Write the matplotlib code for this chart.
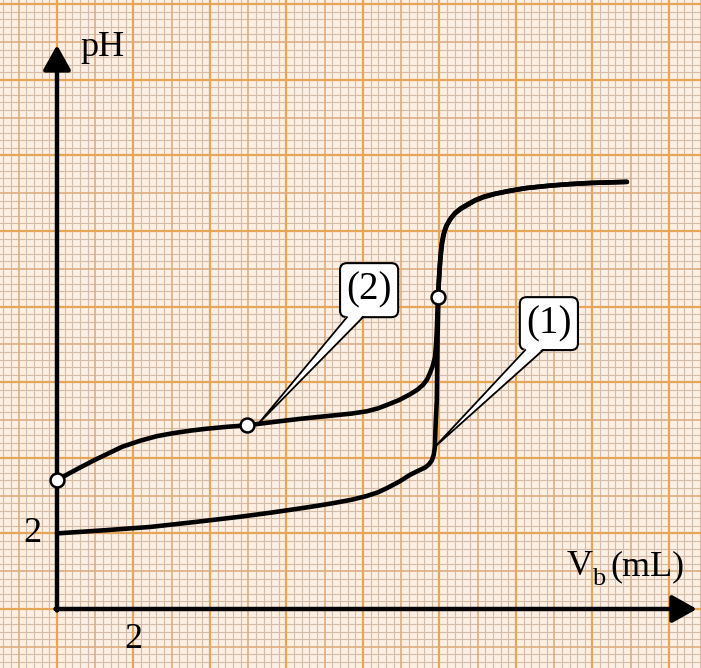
import numpy as np
import matplotlib.pyplot as plt
from matplotlib.patches import FancyBboxPatch, Polygon

plt.rcParams['font.family'] = ['Liberation Serif', 'DejaVu Serif']

# curve (1): strong acid titrated by the base
vb_1 = [0.0, 1.2, 2.43, 3.6, 4.78, 5.6, 6.35, 6.8, 7.22, 7.7, 8.10, 8.4, 8.63,
        8.95, 9.23, 9.45, 9.62, 9.72, 9.80, 9.85, 9.88, 9.90, 9.93, 9.95, 9.98,
        10.02, 10.07, 10.13, 10.2, 10.3, 10.42, 10.57, 10.74, 10.94, 11.16,
        11.47, 11.86, 12.3, 12.89, 13.4, 13.93, 14.90]
ph_1 = [2.0, 2.08, 2.17, 2.30, 2.44, 2.55, 2.66, 2.73, 2.80, 2.89, 2.99, 3.09,
        3.20, 3.37, 3.55, 3.66, 3.74, 3.82, 3.93, 4.08, 4.29, 4.9, 5.53, 7.2,
        8.6, 9.25, 9.7, 9.98, 10.17, 10.34, 10.49, 10.61, 10.71, 10.82, 10.91,
        10.99, 11.07, 11.14, 11.20, 11.24, 11.27, 11.30]

# curve (2): weak acid titrated by the base
vb_2 = [0.0, 0.25, 0.6, 1.0, 1.31, 1.7, 2.17, 2.6, 3.03, 3.5, 3.92, 4.45, 4.97,
        5.6, 6.35, 7.22, 7.7, 8.10, 8.4, 8.63, 8.95, 9.23, 9.42, 9.57, 9.68,
        9.75, 9.82, 9.88, 9.91, 9.93, 9.96, 9.99, 10.01, 10.05, 10.10, 10.17,
        10.27, 10.40, 10.55, 10.72, 10.92, 11.14, 11.45, 11.84, 12.3, 12.89,
        13.4, 13.93, 14.90]
ph_2 = [3.41, 3.55, 3.74, 3.95, 4.10, 4.29, 4.45, 4.57, 4.65, 4.72, 4.77, 4.82,
        4.86, 4.94, 5.03, 5.12, 5.17, 5.23, 5.31, 5.40, 5.53, 5.68, 5.80, 5.93,
        6.08, 6.24, 6.42, 6.65, 7.0, 7.38, 8.25, 8.8, 9.1, 9.6, 9.9, 10.12,
        10.3, 10.46, 10.58, 10.68, 10.8, 10.89, 10.98, 11.06, 11.14, 11.2,
        11.24, 11.27, 11.30]

# marked points on curve (2)
vb_marks = [0.0, 4.97, 9.96]
ph_marks = [3.41, 4.86, 8.25]

x_ticks = [2]
y_ticks = [2]

fig = plt.figure(figsize=(7.01, 6.68), dpi=100)
ax = fig.add_axes([0, 0, 1, 1])
ax.set_xlim(-1.490, 16.837)
ax.set_ylim(-1.561, 16.111)
ax.axis('off')
ax.add_patch(plt.Rectangle((-2, -2), 20, 20, color='#fcefe3', zorder=0))

# graph paper: fine lines every 0.2, orange lines every unit, darker every 2
def paper_line(draw, v):
    k = round(v / 0.2)
    if k % 5 == 0:
        if (k // 5) % 2 == 0:
            draw(v, color='#e7a558', lw=1.6, zorder=1)
        else:
            draw(v, color='#dcae80', lw=1.2, zorder=1)
    else:
        draw(v, color='#d5bca9', lw=0.8, zorder=0.5)


for v in np.arange(-7, 85) * 0.2:
    paper_line(ax.axvline, v)
for v in np.arange(-7, 81) * 0.2:
    paper_line(ax.axhline, v)

# axes with arrows
arrow = dict(arrowstyle='-|>,head_length=0.75,head_width=0.42', lw=3.2,
             color='black', mutation_scale=20, shrinkA=0, shrinkB=0)
ax.annotate('', xy=(0, 14.92), xytext=(0, -0.04), arrowprops=arrow, zorder=5)
ax.annotate('', xy=(16.73, 0.0), xytext=(-0.04, 0.0), arrowprops=arrow, zorder=5)

ax.text(1.2, 14.85, 'pH', fontsize=26, ha='center', va='center', zorder=6)
# V_b (mL), subscript set by hand
ax.text(13.67, 0.90, 'V', fontsize=26, ha='center', va='baseline', zorder=6)
ax.text(14.17, 0.63, 'b', fontsize=19, ha='center', va='baseline', zorder=6)
ax.text(14.46, 0.90, '(mL)', fontsize=26, ha='left', va='baseline', zorder=6)
for t in x_ticks:
    ax.text(t, -0.82, str(t), fontsize=26, ha='center', va='center', zorder=6)
for t in y_ticks:
    ax.text(-0.63, t, str(t), fontsize=26, ha='center', va='center', zorder=6)

ax.plot(vb_1, ph_1, color='black', lw=3.3, solid_joinstyle='round',
        solid_capstyle='round', zorder=4)
ax.plot(vb_2, ph_2, color='black', lw=3.3, solid_joinstyle='round',
        solid_capstyle='round', zorder=4)
ax.plot(vb_marks, ph_marks, 'o', ms=10, mfc='white', mec='black', mew=1.8,
        zorder=7)


def callout(label, box, base, tip):
    x0, x1, y0, y1 = box
    ax.add_patch(FancyBboxPatch((x0, y0), x1 - x0, y1 - y0,
                                boxstyle='round,pad=0,rounding_size=0.18',
                                fc='white', ec='black', lw=1.5, zorder=8))
    (bx0, by), (bx1, _) = base
    ax.add_patch(Polygon([(bx0, by + 0.05), (bx1, by + 0.05), tip],
                         closed=True, fc='white', ec='none', zorder=9))
    ax.plot([bx0, tip[0], bx1], [by, tip[1], by], color='black', lw=1.3,
            solid_joinstyle='miter', zorder=9)
    ax.text((x0 + x1) / 2, (y0 + y1) / 2, label, fontsize=28, ha='center',
            va='center', zorder=10)


callout('(2)', (7.40, 8.92, 7.72, 9.15), [(7.58, 7.72), (8.0, 7.72)], (5.28, 4.92))
callout('(1)', (12.10, 13.62, 6.85, 8.25), [(12.24, 6.85), (12.71, 6.85)], (9.88, 4.29))

fig.savefig('out.png', dpi=100)
